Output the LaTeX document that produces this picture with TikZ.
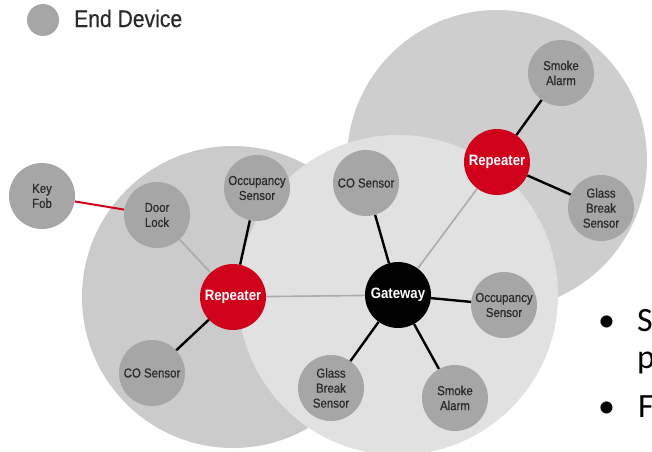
\documentclass[tikz,border=0pt]{standalone}
\usepackage{fontspec}
\setmainfont{Liberation Sans}
\newfontfamily\dinfont[FakeStretch=0.88]{Liberation Sans}
\newfontfamily\dinmed[FakeStretch=0.88,FakeBold=0.5]{Liberation Sans}
\newfontfamily\slidefont{Carlito}
\definecolor{devgray}{HTML}{A6A6A6}
\definecolor{devtext}{HTML}{2A2A2A}
\definecolor{repred}{HTML}{D0021B}
\definecolor{zoneleft}{HTML}{CBCBCB}
\definecolor{zonemid}{HTML}{E1E1E1}
\definecolor{zoneright}{HTML}{CECECE}
\definecolor{weakgray}{HTML}{ABABAB}
\begin{document}
\begin{tikzpicture}[x=1pt,y=-1pt,
    dev/.style={circle,fill=devgray,minimum size=66pt,inner sep=0pt,align=center,text=devtext,
      font=\dinmed\fontsize{13}{15}\selectfont},
    rep/.style={circle,fill=repred,minimum size=66pt,inner sep=0pt,text=white,
      font=\dinfont\bfseries\fontsize{15}{17}\selectfont},
    gw/.style={rep,fill=black},
    link/.style={line width=2.4pt,black},
    weak/.style={line width=1.6pt,weakgray},
    radio/.style={line width=2pt,repred},
    slide/.style={anchor=base west,inner sep=0pt,font=\slidefont\fontsize{34}{37}\selectfont}]
    \useasboundingbox (0,0) rectangle (652,451);
    % coverage zones
    \fill[zoneright] (497,160) circle (150pt);
    \fill[zoneleft] (233,297) circle (151pt);
    \fill[zonemid] (398,295) circle (160pt);
    % legend
    \node[dev,minimum size=32pt] (legdot) at (43,20) {};
    \node[anchor=base west,inner sep=0pt,text=devtext,font=\dinmed\fontsize{24}{28}\selectfont] (legtxt) at (74,27) {End Device};
    % devices
    \node[dev] (keyfob) at (42,196) {Key\\Fob};
    \node[dev] (door) at (157,215) {Door\\Lock};
    \node[dev] (occl) at (257,188) {Occupancy\\Sensor};
    \node[dev] (col) at (152,373) {CO Sensor};
    \node[rep] (repl) at (233,297) {Repeater};
    \node[gw] (gate) at (398,295) {Gateway};
    \node[dev] (com) at (366,183) {CO Sensor};
    \node[rep] (repr) at (497,162) {Repeater};
    \node[dev] (smoket) at (561,73) {Smoke\\Alarm};
    \node[dev] (glassr) at (601,208) {Glass\\Break\\Sensor};
    \node[dev] (occr) at (504,305) {Occupancy\\Sensor};
    \node[dev] (smokeb) at (455,398) {Smoke\\Alarm};
    \node[dev] (glassb) at (331,388) {Glass\\Break\\Sensor};
    % links
    \draw[radio] (keyfob) -- (door);
    \draw[weak] (door) -- (repl);
    \draw[link] (occl) -- (repl);
    \draw[link] (col) -- (repl);
    \draw[weak] (repl) -- (gate);
    \draw[link] (gate) -- (com);
    \draw[weak] (gate) -- (repr);
    \draw[link] (gate) -- (occr);
    \draw[link] (gate) -- (smokeb);
    \draw[link] (gate) -- (glassb);
    \draw[link] (repr) -- (smoket);
    \draw[link] (repr) -- (glassr);
    % slide text at the edge
    \node[slide] (dot1) at (598,331) {•};
    \node[slide] (txt1) at (637,331) {S};
    \node[slide] (txt2) at (637,368) {p};
    \node[slide] (dot2) at (598,417) {•};
    \node[slide] (txt3) at (638,417) {F};
\end{tikzpicture}
\end{document}
